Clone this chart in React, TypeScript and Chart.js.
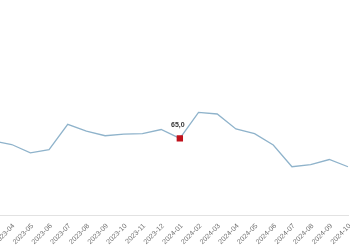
import React, { useEffect, useRef } from "react";
import { Chart, registerables } from "chart.js";

Chart.register(...registerables);

const months = [
  "2023-03", "2023-04", "2023-05", "2023-06", "2023-07", "2023-08", "2023-09",
  "2023-10", "2023-11", "2023-12", "2024-01", "2024-02", "2024-03", "2024-04",
  "2024-05", "2024-06", "2024-07", "2024-08", "2024-09", "2024-10",
];
const values = [
  64.5, 63.8, 62.2, 62.8, 67.7, 66.4, 65.5, 65.8, 65.9, 66.7, 65.0, 70.0,
  69.7, 66.8, 65.9, 63.7, 59.5, 59.9, 60.9, 59.5,
];
const highlightIndex = 10;
const highlightLabel = "65,0";

const highlightPlugin = {
  id: "highlightLabel",
  afterDatasetsDraw(chart: any) {
    const meta = chart.getDatasetMeta(0);
    const pt = meta.data[highlightIndex];
    if (!pt) return;
    const ctx = chart.ctx;
    ctx.save();
    ctx.font = "bold 7px 'Liberation Sans', Arial, sans-serif";
    ctx.fillStyle = "#333333";
    ctx.textAlign = "center";
    ctx.textBaseline = "bottom";
    ctx.fillText(highlightLabel, pt.x - 2, pt.y - 10);
    ctx.restore();
  },
};

export default function App() {
  const ref = useRef<HTMLCanvasElement | null>(null);
  useEffect(() => {
    if (!ref.current) return;
    const chart = new Chart(ref.current, {
      type: "line",
      data: {
        labels: months,
        datasets: [
          {
            data: values,
            borderColor: "#8fb3cb",
            borderWidth: 1.3,
            tension: 0,
            fill: false,
            pointRadius: values.map((_, i) => (i === highlightIndex ? 4.5 : 0)),
            pointStyle: "rect",
            pointBackgroundColor: "#c0111b",
            pointBorderColor: "#c0111b",
            pointBorderWidth: 0,
          },
        ],
      },
      options: {
        responsive: false,
        animation: false,
        layout: { padding: { top: 9, left: 33, right: 12, bottom: 0 } },
        plugins: { legend: { display: false }, tooltip: { enabled: false } },
        scales: {
          x: {
            offset: false,
            afterFit: (scale: any) => {
              scale.paddingLeft = 0;
              scale.paddingRight = 0;
            },
            grid: { display: false, drawTicks: false },
            border: { display: true, color: "#e2e2e2", width: 1 },
            ticks: {
              autoSkip: false,
              minRotation: 45,
              maxRotation: 45,
              padding: 6,
              labelOffset: 2,
              color: "#707070",
              font: { size: 7, family: "'Liberation Sans', Arial, sans-serif" },
            },
          },
          y: { display: false, min: 50, max: 90 },
        },
      },
      plugins: [highlightPlugin],
    });
    return () => chart.destroy();
  }, []);
  return (
    <div style={{ position: "fixed", left: 0, top: 0, width: 350, height: 250, overflow: "hidden", background: "#fff" }}>
      <canvas ref={ref} width={400} height={252} style={{ position: "absolute", left: -40, top: 0 }} />
    </div>
  );
}
